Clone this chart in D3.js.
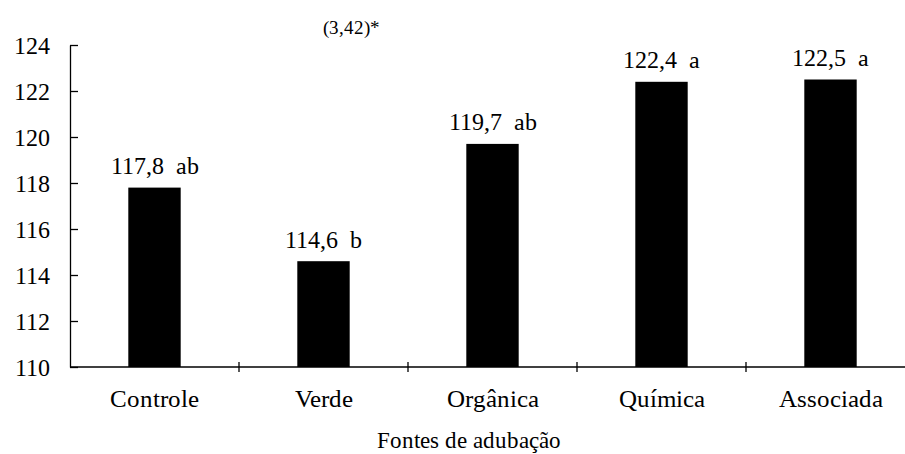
<!DOCTYPE html>
<html><head><meta charset="utf-8">
<script src="https://cdn.jsdelivr.net/npm/d3@7"></script>
<style>
@font-face{font-family:"ChartSerif";src:local("Liberation Serif"),local("LiberationSerif"),local("LiberationSerif-Regular"),local("Tinos"),local("Nimbus Roman"),local("Times New Roman");}
body{margin:0;background:#fff;}
svg text{font-family:"ChartSerif","Liberation Serif","Nimbus Roman",serif !important;}
</style>
</head>
<body><svg id="c" width="905" height="454"></svg>
<script>
const categories = ["Controle","Verde","Orgânica","Química","Associada"];
const values = [117.8, 114.6, 119.7, 122.4, 122.5];
const letters = ["ab","b","ab","a","a"];
const yTicks = [110,112,114,116,118,120,122,124];
const xTitle = "Fontes de adubação";
const note = "(3,42)*";

(function(){
const FONT = "Liberation Serif";
const svg = d3.select("#c");
const mL = 70, mR = 915, mT = 45, mB = 367;
const x = d3.scaleBand().domain(categories).range([mL,mR]).paddingInner(0.69).paddingOuter(0.345);
const y = d3.scaleLinear().domain([110,124]).range([mB,mT]);

// y axis
const yAxis = d3.axisLeft(y).tickValues(yTicks).tickSizeInner(-8).tickSizeOuter(0).tickPadding(20);
const gy = svg.append("g").attr("transform",`translate(${mL},0)`).call(yAxis)
  .attr("font-family",FONT).attr("font-size",24);
gy.select(".domain").attr("stroke","#000").attr("stroke-width",1.3);
gy.selectAll(".tick line").attr("stroke","#000").attr("stroke-width",1.3);
gy.selectAll(".tick text").attr("fill","#000").attr("x",-20).attr("dy","0.35em").attr("font-family",FONT);

// x axis line
svg.append("line").attr("x1",mL).attr("x2",905).attr("y1",mB).attr("y2",mB).attr("stroke","#000").attr("stroke-width",1.3);
const step = x.step();
const bounds = categories.slice(1).map(c => x(c) - step*x.paddingInner()/2);
svg.selectAll(".xt").data(bounds).join("line").attr("class","xt")
  .attr("x1",d=>d).attr("x2",d=>d).attr("y1",mB-5).attr("y2",mB+5).attr("stroke","#000").attr("stroke-width",1.3);

// bars
svg.selectAll(".bar").data(values).join("rect").attr("class","bar")
  .attr("x",(d,i)=>x(categories[i])).attr("width",x.bandwidth())
  .attr("y",d=>y(d)).attr("height",d=>y(110)-y(d)).attr("fill","#000");

// value labels
svg.selectAll(".vl").data(values).join("text").attr("class","vl")
  .attr("x",(d,i)=>x(categories[i])+x.bandwidth()/2).attr("y",d=>y(d)-13.5)
  .attr("text-anchor","middle").attr("font-family",FONT).attr("font-size",24)
  .style("white-space","pre")
  .text((d,i)=>d.toFixed(1).replace(".",",")+"  "+letters[i]);

// category labels
svg.selectAll(".cl").data(categories).join("text").attr("class","cl")
  .attr("x",d=>x(d)+x.bandwidth()/2).attr("y",407).attr("text-anchor","middle")
  .attr("font-family",FONT).attr("font-size",25).text(d=>d);

svg.append("text").attr("x",469).attr("y",448).attr("text-anchor","middle")
  .attr("font-family",FONT).attr("font-size",23).text(xTitle);
svg.append("text").attr("x",351).attr("y",34).attr("text-anchor","middle")
  .attr("font-family",FONT).attr("font-size",19).text(note);
})();
</script></body></html>
